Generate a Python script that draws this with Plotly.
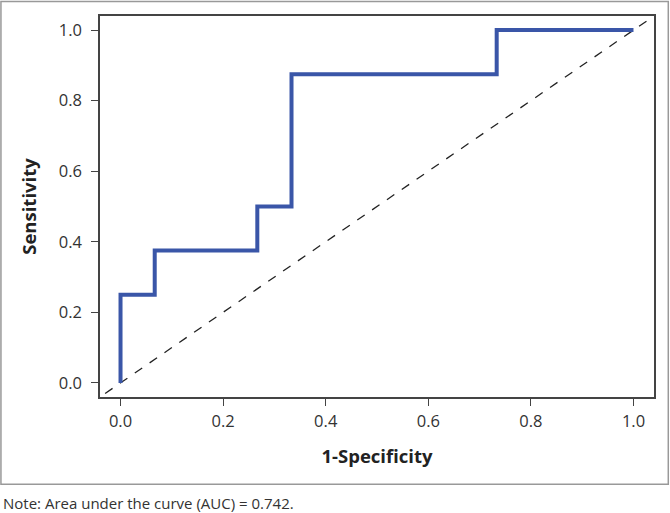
import plotly.graph_objects as go

# ROC curve data (1-Specificity, Sensitivity)
fpr = [0.0, 0.0, 1/15, 1/15, 4/15, 4/15, 5/15, 5/15, 11/15, 11/15, 1.0]
tpr = [0.0, 0.25, 0.25, 0.375, 0.375, 0.5, 0.5, 0.875, 0.875, 1.0, 1.0]
ref_line = [-0.03, 1.03]
tick_vals = [0.0, 0.2, 0.4, 0.6, 0.8, 1.0]
tick_text = ["0.0", "0.2", "0.4", "0.6", "0.8", "1.0"]
note = "Note: Area under the curve (AUC) = 0.742."

fig = go.Figure()
fig.add_trace(go.Scatter(x=ref_line, y=ref_line, mode="lines",
                         line=dict(color="#222222", width=1.3, dash="dash"),
                         showlegend=False, hoverinfo="skip"))
fig.add_trace(go.Scatter(x=fpr, y=tpr, mode="lines",
                         line=dict(color="#3a56a8", width=4),
                         showlegend=False))

axis_common = dict(range=[-0.04, 1.04], tickvals=tick_vals, ticktext=tick_text,
                   showgrid=False, zeroline=False, showline=True, mirror=True,
                   linecolor="#444444", linewidth=1.5, ticks="outside",
                   ticklen=7, tickwidth=1.3, tickcolor="#444444",
                   tickfont=dict(family="Open Sans", size=16.5, color="#333333"))

fig.update_layout(
    width=670, height=513,
    margin=dict(l=100, r=16, t=16, b=116),
    paper_bgcolor="white", plot_bgcolor="white",
    xaxis=dict(**axis_common, ticklabelstandoff=1,
               title=dict(text="<b>1-Specificity</b>", standoff=20,
                          font=dict(family="Open Sans", size=18.5, color="#222222"))),
    yaxis=dict(**axis_common, ticklabelstandoff=6,
               title=dict(text="<b>Sensitivity</b>", standoff=17,
                          font=dict(family="Open Sans", size=18.5, color="#222222"))),
    shapes=[dict(type="rect", xref="paper", yref="paper",
                 x0=-0.1788, x1=1.0258, y0=-0.229, y1=1.038,
                 line=dict(color="#999999", width=1.5), fillcolor="rgba(0,0,0,0)",
                 layer="below")],
    annotations=[dict(text=note, xref="paper", yref="paper",
                      x=-0.178, y=-0.279, xanchor="left", yanchor="middle",
                      showarrow=False,
                      font=dict(family="Open Sans", size=15, color="#333333"))],
)

fig.write_html("out.html", config={"displayModeBar": False},
               post_script="document.body.style.margin='0';")
